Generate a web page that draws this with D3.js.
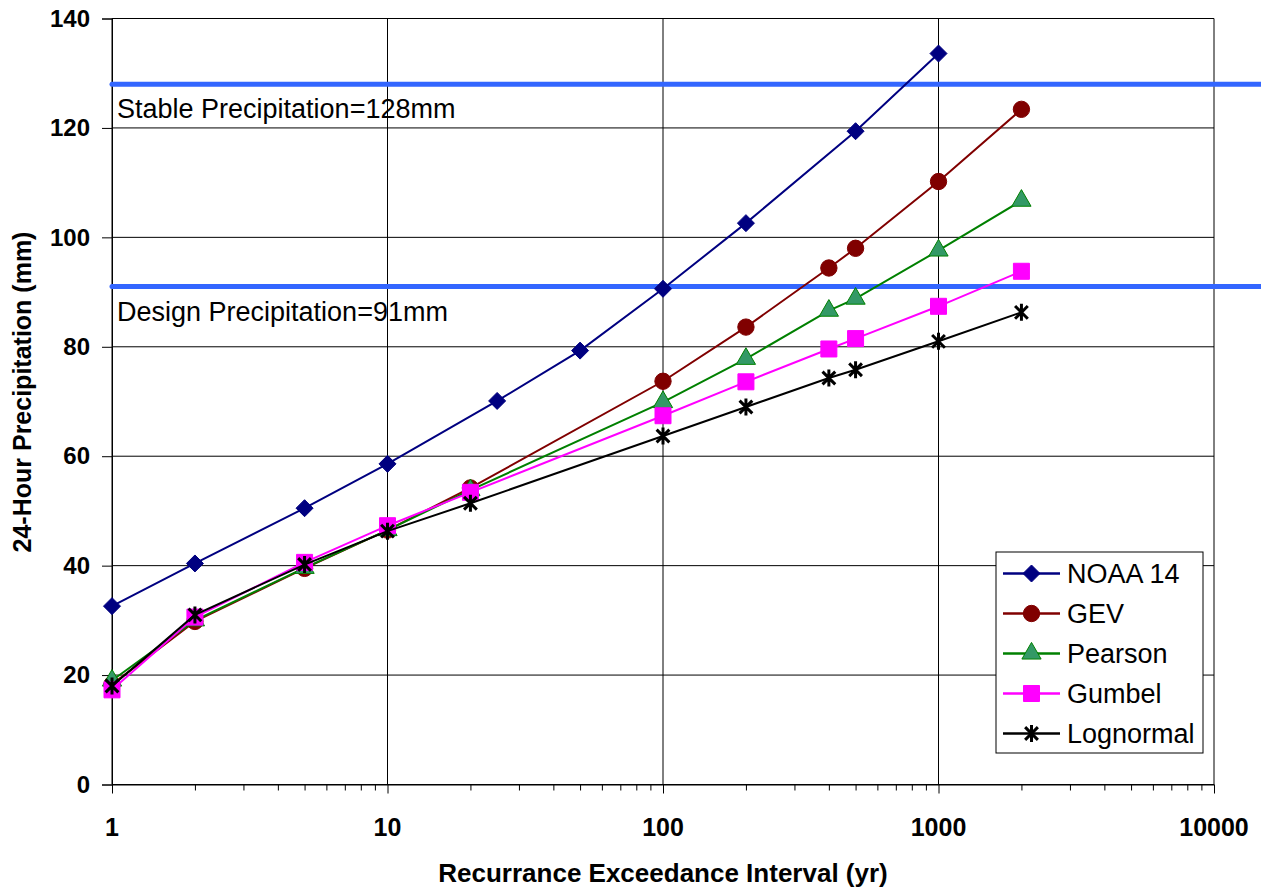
<!DOCTYPE html>
<html>
<head>
<meta charset="utf-8">
<script src="https://cdn.jsdelivr.net/npm/d3@7"></script>
<style>
  body { margin: 0; background: #fff; }
  text { font-family: "Liberation Sans", Arial, sans-serif; }
</style>
</head>
<body>
<div id="chart"></div>
<script>
// return periods (yr)
let xNoaa = [1, 2, 5, 10, 25, 50, 100, 200, 500, 1000]
let xFit  = [1, 2, 5, 10, 20, 100, 200, 400, 500, 1000, 2000]

// 24-hour precipitation (mm)
let noaa      = [32.6, 40.4, 50.5, 58.6, 70.1, 79.3, 90.6, 102.6, 119.4, 133.6]
let gev       = [18.3, 29.8, 39.5, 46.5, 54.2, 73.7, 83.6, 94.4, 98.0, 110.2, 123.4]
let pearson   = [19.0, 30.0, 39.6, 46.5, 53.8, 69.9, 77.8, 86.6, 88.8, 97.6, 106.7]
let gumbel    = [17.3, 30.6, 40.6, 47.3, 53.4, 67.4, 73.6, 79.6, 81.5, 87.4, 93.8]
let lognormal = [18.0, 31.0, 40.2, 46.3, 51.4, 63.7, 69.0, 74.3, 75.8, 81.0, 86.3]

let seriesNames = ["NOAA 14", "GEV", "Pearson", "Gumbel", "Lognormal"]

// reference levels
let refValues = [128, 91]
let refLabels = ["Stable Precipitation=128mm", "Design Precipitation=91mm"]

let xTicks = [1, 10, 100, 1000, 10000]
let yTicks = [0, 20, 40, 60, 80, 100, 120, 140]

/*--- tamaños ---*/
let width = 1261
let height = 888
let m = {left: 112, top: 18.5, right: 47, bottom: 103.5}
let w = width - m.left - m.right
let h = height - m.top - m.bottom

let x = d3.scaleLog().domain([1, 10000]).range([0, w])
let y = d3.scaleLinear().domain([0, 140]).range([h, 0])

let svg = d3.select("#chart").append("svg")
    .attr("width", width).attr("height", height)

let g = svg.append("g").attr("transform", "translate(" + m.left + "," + m.top + ")")

// grid
g.append("g").selectAll("line").data(yTicks).enter().append("line")
    .attr("x1", 0).attr("x2", w)
    .attr("y1", d => y(d)).attr("y2", d => y(d))
    .attr("stroke", "#000").attr("stroke-width", 1)
g.append("g").selectAll("line").data(xTicks).enter().append("line")
    .attr("y1", 0).attr("y2", h)
    .attr("x1", d => x(d)).attr("x2", d => x(d))
    .attr("stroke", "#000").attr("stroke-width", 1)

// axes
let xAxis = d3.axisBottom(x)
    .tickValues(x.ticks().filter(d => d <= 10000))
    .tickSize(6).tickFormat("")
let xa = g.append("g").attr("transform", "translate(0," + h + ")").call(xAxis)
xa.selectAll(".tick line").attr("stroke", "#000")
    .attr("y2", d => xTicks.includes(d) ? 9 : 6)
xa.select(".domain").attr("stroke", "#000")

let ya = g.append("g").call(d3.axisLeft(y).tickValues(yTicks).tickSize(10).tickPadding(12))
ya.select(".domain").attr("stroke", "#000")
ya.selectAll(".tick line").attr("stroke", "#000")
ya.selectAll(".tick text")
    .style("font-family", "'Liberation Sans', Arial, sans-serif")
    .style("font-size", "24px").style("font-weight", "bold").attr("fill", "#000")

g.append("g").selectAll("text").data(xTicks).enter().append("text")
    .attr("x", d => x(d)).attr("y", h + 51)
    .attr("text-anchor", "middle")
    .style("font-size", "25px").style("font-weight", "bold")
    .text(d => d)

// lineas azules
g.append("g").selectAll("line").data(refValues).enter().append("line")
    .attr("x1", 0).attr("x2", w + 47)
    .attr("y1", d => y(d)).attr("y2", d => y(d))
    .attr("stroke", "#3366ff").attr("stroke-width", 5)
    .attr("stroke-linecap", "round")
g.append("g").selectAll("text").data(refValues).enter().append("text")
    .attr("x", 5).attr("y", d => y(d) + 34)
    .style("font-size", "27px")
    .text((d, i) => refLabels[i])

// series
let estrella = function (r) {
    let a = r * 0.75
    return "M0," + (-r) + "L0," + r +
        "M" + (-a) + "," + (-a) + "L" + a + "," + a +
        "M" + (-a) + "," + a + "L" + a + "," + (-a)
}
let rombo = function (r) {
    return "M0," + (-r) + "L" + r + ",0L0," + r + "L" + (-r) + ",0Z"
}
let series = [
    {name: seriesNames[0], xs: xNoaa, ys: noaa,      color: "#000080", fill: "#000080", sym: "rombo",          size: 8.5},
    {name: seriesNames[1], xs: xFit,  ys: gev,       color: "#800000", fill: "#800000", sym: d3.symbolCircle,   size: 210},
    {name: seriesNames[2], xs: xFit,  ys: pearson,   color: "#008000", fill: "#339966", sym: d3.symbolTriangle, size: 160},
    {name: seriesNames[3], xs: xFit,  ys: gumbel,    color: "#ff00ff", fill: "#ff00ff", sym: d3.symbolSquare,   size: 256},
    {name: seriesNames[4], xs: xFit,  ys: lognormal, color: "#000000", fill: "none",    sym: null,              size: 8.5}
]

let linea = d3.line().x(d => x(d[0])).y(d => y(d[1]))

function marker(sel, s) {
    if (s.sym === "rombo") {
        sel.attr("d", rombo(s.size))
            .attr("fill", s.fill).attr("stroke", s.color).attr("stroke-width", 1)
    } else if (s.sym) {
        sel.attr("d", d3.symbol().type(s.sym).size(s.size))
            .attr("fill", s.fill)
            .attr("stroke", s.color).attr("stroke-width", 1)
    } else {
        sel.attr("d", estrella(s.size))
            .attr("fill", "none")
            .attr("stroke", s.color).attr("stroke-width", 3)
    }
}

series.forEach(function (s) {
    let pts = s.xs.map((v, i) => [v, s.ys[i]])
    let sg = g.append("g")
    sg.append("path").datum(pts)
        .attr("d", linea)
        .attr("fill", "none").attr("stroke", s.color).attr("stroke-width", 2)
    sg.selectAll("path.pt").data(pts).enter().append("path")
        .attr("class", "pt")
        .attr("transform", d => "translate(" + x(d[0]) + "," + y(d[1]) + ")")
        .call(marker, s)
})

// leyenda
let lg = svg.append("g").attr("transform", "translate(996,552)")
lg.append("rect").attr("width", 207).attr("height", 201)
    .attr("fill", "#fff").attr("stroke", "#000").attr("stroke-width", 1)
let item = lg.selectAll("g").data(series).enter().append("g")
    .attr("transform", (d, i) => "translate(0," + (21.5 + i * 40) + ")")
item.append("line").attr("x1", 7).attr("x2", 64)
    .attr("stroke", d => d.color).attr("stroke-width", 2.5)
item.append("path").attr("transform", "translate(35.5,0)")
    .each(function (d) { d3.select(this).call(marker, d) })
item.append("text").attr("x", 71).attr("y", 9.5)
    .style("font-size", "27px")
    .text(d => d.name)

// titulos
svg.append("text")
    .attr("x", m.left + w / 2).attr("y", 882)
    .attr("text-anchor", "middle")
    .style("font-size", "26px").style("font-weight", "bold")
    .text("Recurrance Exceedance Interval (yr)")
svg.append("text")
    .attr("transform", "translate(31,392) rotate(-90)")
    .attr("text-anchor", "middle")
    .style("font-size", "25px").style("font-weight", "bold")
    .text("24-Hour Precipitation (mm)")
</script>
</body>
</html>
